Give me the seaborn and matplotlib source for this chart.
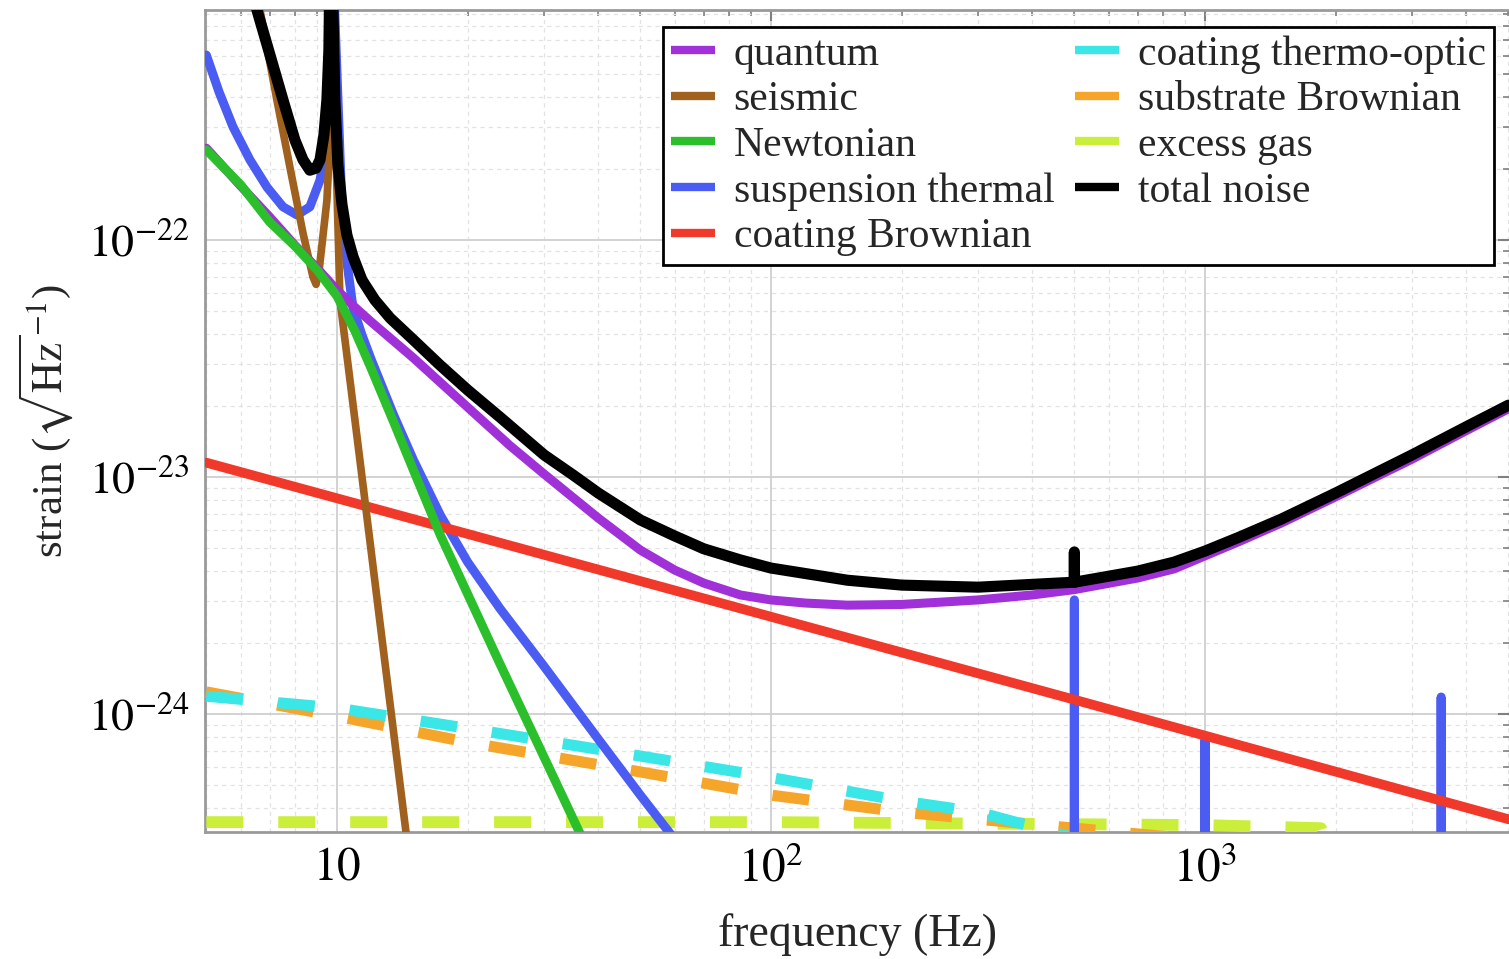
import numpy as np
import pandas as pd
import matplotlib
matplotlib.use("Agg")
import matplotlib.pyplot as plt
from matplotlib.lines import Line2D
from matplotlib.ticker import LogLocator, NullFormatter, FixedLocator, FixedFormatter
import seaborn as sns

# ---------------- data ----------------
quantum_f = [5, 6, 7, 8, 9, 10, 11, 12, 15, 20, 25, 30, 40, 50, 60, 70, 85, 100, 120, 150,
             200, 300, 400, 500, 700, 850, 1000, 1200, 1500, 2000, 2500, 3000, 4000, 5000]
quantum = [2.44e-22, 1.69e-22, 1.25e-22, 9.5e-23, 7.6e-23, 6.15e-23, 5.2e-23, 4.51e-23,
           3.18e-23, 1.97e-23, 1.36e-23, 1.03e-23, 6.71e-24, 4.92e-24, 4.05e-24, 3.57e-24,
           3.18e-24, 3.03e-24, 2.94e-24, 2.88e-24, 2.9e-24, 3.03e-24, 3.18e-24, 3.35e-24,
           3.75e-24, 4.1e-24, 4.65e-24, 5.35e-24, 6.4e-24, 8.25e-24, 1.01e-23, 1.19e-23,
           1.57e-23, 1.94e-23]

seismic_f = [6.3, 6.65, 7.27, 7.79, 8.35, 8.8, 8.95, 9.1, 9.48, 9.74, 9.8, 9.87, 10.16,
             11.3, 12.56, 14.42, 15.5]
seismic = [1.5e-21, 9.3e-22, 3.9e-22, 2.03e-22, 1.07e-22, 7.0e-23, 6.5e-23, 7.5e-23,
           1.47e-22, 3.9e-22, 3.0e-21, 3.9e-22, 5.6e-23, 1.17e-23, 2.44e-24, 3.18e-25, 1.06e-25]

newton_f = [5, 6, 7, 8, 9, 10, 11, 12, 13.5, 15, 17.3, 20, 23.7, 30, 36, 40]
newton = [2.40e-22, 1.71e-22, 1.19e-22, 9.43e-23, 7.47e-23, 5.80e-23, 4.13e-23, 2.86e-23,
          1.71e-23, 1.07e-23, 5.69e-24, 3.21e-24, 1.64e-24, 6.58e-25, 3.24e-25, 2.13e-25]

susp_f = [5, 5.35, 5.76, 6.3, 6.9, 7.51, 8.09, 8.66, 9.14, 9.38, 9.53, 9.65, 10.27, 10.54,
          10.89, 11.42, 12, 13.5, 15, 17.3, 20, 23.7, 30, 40, 50, 58.2, 70,
          499.5, 500, 500.5, 999, 1000, 1001, 3495, 3500, 3505, 5000]
susp = [6.03e-22, 4.21e-22, 3.0e-22, 2.18e-22, 1.67e-22, 1.38e-22, 1.275e-22, 1.38e-22,
        1.79e-22, 2.33e-22, 3.0e-22, 3.0e-21, 1.34e-22, 8.08e-23, 5.16e-23, 3.97e-23,
        3.12e-23, 1.83e-23, 1.18e-23, 6.91e-24, 4.38e-24, 2.8e-24, 1.59e-24, 7.84e-25,
        4.55e-25, 3.18e-25, 2.03e-25,
        1e-26, 3.03e-24, 1e-26, 1e-26, 7.8e-25, 1e-26, 1e-26, 1.18e-24, 1e-26, 1e-26]

coatbr_f = [5, 50, 500, 5000]
coatbr = [1.15e-23, 3.64e-24, 1.15e-24, 3.6e-25]

thermo_f = [5, 10, 20, 50, 100, 200, 300, 500]
thermo = [1.19e-24, 1.06e-24, 8.7e-25, 6.65e-25, 5.4e-25, 4.3e-25, 3.86e-25, 3.0e-25]

subst_f = [5, 10, 20, 50, 100, 200, 500, 1000]
subst = [1.24e-24, 9.8e-25, 7.6e-25, 5.7e-25, 4.55e-25, 3.86e-25, 3.3e-25, 2.94e-25]

gas_f = [5, 100, 1000, 1850, 2000]
gas = [3.5e-25, 3.5e-25, 3.4e-25, 3.3e-25, 2.0e-25]

total_f = [6.2, 6.54, 7.01, 7.51, 8.0, 8.35, 8.66, 8.95, 9.14, 9.33, 9.48, 9.58, 9.68, 9.79,
           9.89, 10.05, 10.27, 10.54, 10.89, 11.42, 12.23, 13.25, 15, 17.26, 20, 23.74, 30,
           35, 40, 50, 60, 70, 85, 100, 150, 200, 300, 499.5, 500, 500.5, 700, 850, 1000,
           1200, 1500, 2000, 2500, 3000, 4000, 5000]
total = [1.5e-21, 9.34e-22, 6.03e-22, 3.9e-22, 2.64e-22, 2.18e-22, 1.97e-22, 2.01e-22,
         2.18e-22, 2.77e-22, 3.9e-22, 6.33e-22, 3.0e-21, 9.34e-22, 3.9e-22, 2.07e-22,
         1.41e-22, 1.05e-22, 8.5e-23, 6.78e-23, 5.58e-23, 4.69e-23, 3.79e-23, 2.97e-23,
         2.33e-23, 1.79e-23, 1.24e-23, 1.02e-23, 8.56e-24, 6.59e-24, 5.64e-24, 4.98e-24,
         4.47e-24, 4.13e-24, 3.67e-24, 3.5e-24, 3.43e-24, 3.6e-24, 4.83e-24, 3.6e-24,
         4.01e-24, 4.38e-24, 4.87e-24, 5.58e-24, 6.65e-24, 8.56e-24, 1.05e-23, 1.24e-23,
         1.63e-23, 2.01e-23]

legend_labels = ["quantum", "seismic", "Newtonian", "suspension thermal", "coating Brownian",
                 "coating thermo-optic", "substrate Brownian", "excess gas", "total noise"]
x_ticks = [10, 100, 1000]
x_ticklabels = [r"$10$", r"$10^{2}$", r"$10^{3}$"]
y_ticks = [1e-24, 1e-23, 1e-22]
y_ticklabels = [r"$10^{-24}$", r"$10^{-23}$", r"$10^{-22}$"]

colors = {
    "quantum": "#a031d8",
    "seismic": "#a0611f",
    "Newtonian": "#2bbf2b",
    "suspension thermal": "#4a5cf2",
    "coating Brownian": "#f1392b",
    "coating thermo-optic": "#3ae6e6",
    "substrate Brownian": "#f5a62a",
    "excess gas": "#cbee3a",
    "total noise": "#000000",
}

# ---------------- style ----------------
sns.set_theme(style="white")
plt.rcParams["font.family"] = ["Liberation Serif", "DejaVu Serif"]
plt.rcParams["mathtext.fontset"] = "stix"
plt.rcParams["lines.scale_dashes"] = False

fig = plt.figure(figsize=(15.09, 9.59), dpi=100)
ax = fig.add_axes([205 / 1509, 1 - 832 / 959, 1304 / 1509, 822 / 959])
ax.set_xscale("log")
ax.set_yscale("log")

dash = (0, (26.6, 25.2))


def draw(f, v, name, lw, z, dashed=False):
    kw = dict(x=f, y=v, ax=ax, color=colors[name], lw=lw, zorder=z, legend=False,
              estimator=None, sort=False)
    if dashed:
        kw.update(linestyle=dash, dash_capstyle="butt")
    else:
        kw.update(solid_capstyle="round", solid_joinstyle="round")
    sns.lineplot(**kw)


draw(gas_f, gas, "excess gas", 8.5, 3, dashed=True)
draw(subst_f, subst, "substrate Brownian", 8.0, 4, dashed=True)
draw(thermo_f, thermo, "coating thermo-optic", 8.0, 5, dashed=True)
draw(susp_f, susp, "suspension thermal", 6.5, 6)
draw(coatbr_f, coatbr, "coating Brownian", 7.0, 7)
draw(seismic_f, seismic, "seismic", 5.5, 8)
draw(quantum_f, quantum, "quantum", 6.5, 9)
draw(newton_f, newton, "Newtonian", 6.5, 10)
draw(total_f, total, "total noise", 8.0, 11)

ax.set_xlim(4.965, 5017)
ax.set_ylim(3.18e-25, 9.34e-22)

ax.xaxis.set_major_locator(FixedLocator(x_ticks))
ax.xaxis.set_major_formatter(FixedFormatter(x_ticklabels))
ax.xaxis.set_minor_locator(LogLocator(base=10, subs=np.arange(2, 10), numticks=50))
ax.xaxis.set_minor_formatter(NullFormatter())
ax.yaxis.set_major_locator(FixedLocator(y_ticks))
ax.yaxis.set_major_formatter(FixedFormatter(y_ticklabels))
ax.yaxis.set_minor_locator(LogLocator(base=10, subs=np.arange(2, 10), numticks=50))
ax.yaxis.set_minor_formatter(NullFormatter())

ax.grid(True, which="major", color="#cfcfcf", lw=1.3)
ax.grid(True, which="minor", color="#e2e2e2", lw=0.9, linestyle=(0, (3, 3)))
ax.set_axisbelow(True)

ax.tick_params(which="both", direction="in", top=True, right=True, color="#808080",
               labelcolor="black")
ax.tick_params(axis="x", which="major", labelsize=34)
ax.tick_params(axis="y", which="major", labelsize=33)
ax.tick_params(which="major", length=8, width=1.5, pad=11)
ax.tick_params(which="minor", length=4, width=1.2)

for s in ["left", "bottom", "top"]:
    ax.spines[s].set_color("#9a9a9a")
    ax.spines[s].set_linewidth(2)
ax.spines["right"].set_visible(False)

ax.set_xlabel("frequency (Hz)", fontsize=33, labelpad=16)
ax.set_ylabel(r"strain ($\sqrt{\mathrm{Hz}}^{-1}$)", fontsize=31, labelpad=9)

handles = [Line2D([0], [0], color=colors[n], lw=6, solid_capstyle="butt") for n in legend_labels]
leg = ax.legend(handles, legend_labels, ncol=2, loc="upper right",
                bbox_to_anchor=(1494 / 1509, 1 - 27 / 959), bbox_transform=fig.transFigure,
                fontsize=30, frameon=True, fancybox=False, edgecolor="black", framealpha=1,
                borderpad=0.2, labelspacing=0.17, handlelength=1.05, handletextpad=0.45,
                columnspacing=0.5, borderaxespad=0)
leg.get_frame().set_linewidth(2)
leg.set_zorder(20)

fig.savefig("out.png", dpi=100)
